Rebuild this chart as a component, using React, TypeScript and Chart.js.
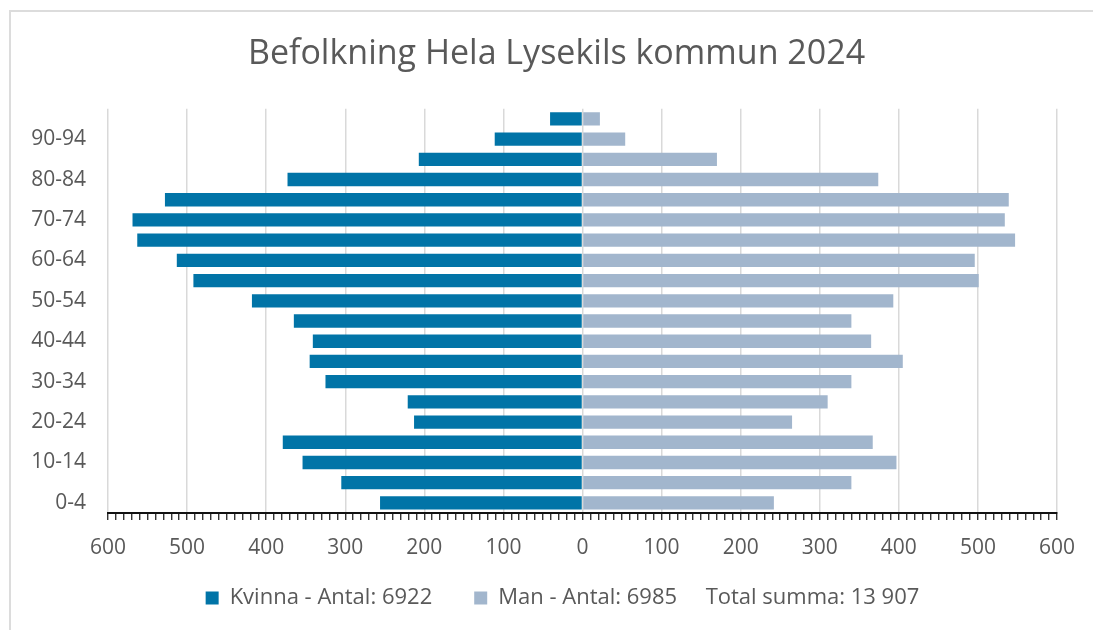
import React, { useEffect, useRef } from 'react';
import { Chart, registerables } from 'chart.js';

Chart.register(...registerables);

const TITLE = 'Befolkning Hela Lysekils kommun 2024';

const AGE_GROUPS = [
  '0-4', '5-9', '10-14', '15-19', '20-24', '25-29', '30-34', '35-39', '40-44', '45-49',
  '50-54', '55-59', '60-64', '65-69', '70-74', '75-79', '80-84', '85-89', '90-94', '95+',
];

const KVINNA = [256, 305, 354, 379, 213, 221, 325, 345, 341, 365, 418, 492, 513, 563, 569, 528, 373, 207, 111, 41];
const MAN = [242, 340, 397, 367, 265, 310, 340, 405, 365, 340, 393, 501, 496, 547, 534, 539, 374, 170, 54, 22];

const KVINNA_LABEL = 'Kvinna - Antal: 6922';
const MAN_LABEL = 'Man - Antal: 6985';
const TOTAL_LABEL = 'Total summa: 13 907';

const X_MIN = -600;
const X_MAX = 600;
const MAJOR_STEP = 100;
const MINOR_STEP = 10;

const TEXT_COLOR = '#595959';
const KVINNA_COLOR = '#0174A7';
const MAN_COLOR = '#A2B6CD';
const GRID_COLOR = '#D9D9D9';
const FONT = "'Open Sans', 'DejaVu Sans', sans-serif";

const LEGEND_PADDING = 42;
const LEGEND_DX = 24;
const LEGEND_TOP = 545;
const TITLE_DX = 18;

const shiftPlugin = {
  id: 'shiftBoxes',
  afterLayout(chart: any) {
    const lg = chart.legend;
    if (lg) {
      lg.left += LEGEND_DX;
      lg.right += LEGEND_DX;
      const h = lg.height;
      lg.top = LEGEND_TOP;
      lg.bottom = LEGEND_TOP + h;
    }
    const t = chart.titleBlock;
    if (t) {
      t.left += TITLE_DX;
      t.right += TITLE_DX;
    }
  },
};

export default function App() {
  const ref = useRef<HTMLCanvasElement>(null);

  useEffect(() => {
    const canvas = ref.current;
    if (!canvas) return;
    const chart = new Chart(canvas, {
      type: 'bar',
      data: {
        labels: AGE_GROUPS,
        datasets: [
          {
            label: KVINNA_LABEL,
            data: KVINNA.map((v) => -v),
            backgroundColor: KVINNA_COLOR,
            borderWidth: 0,
            barPercentage: 0.66,
            categoryPercentage: 1,
          },
          {
            label: MAN_LABEL + '\u00a0'.repeat(5) + TOTAL_LABEL,
            data: MAN,
            backgroundColor: MAN_COLOR,
            borderWidth: 0,
            barPercentage: 0.66,
            categoryPercentage: 1,
          },
        ],
      },
      plugins: [shiftPlugin],
      options: {
        indexAxis: 'y',
        responsive: false,
        maintainAspectRatio: false,
        animation: false,
        font: { family: FONT },
        layout: { padding: { left: 20, right: 36, top: 0, bottom: 8 } },
        scales: {
          x: {
            type: 'linear',
            min: X_MIN,
            max: X_MAX,
            stacked: true,
            ticks: {
              stepSize: MINOR_STEP,
              autoSkip: false,
              maxRotation: 0,
              minRotation: 0,
              color: TEXT_COLOR,
              font: { family: FONT, size: 21 },
              padding: 15,
              callback: (v: any) => (Number(v) % MAJOR_STEP === 0 ? String(Math.abs(Number(v))) : ''),
            },
            grid: {
              color: (ctx: any) =>
                ctx.tick && ctx.tick.value % MAJOR_STEP === 0 ? GRID_COLOR : 'rgba(0,0,0,0)',
              lineWidth: 1.5,
              tickColor: '#111',
              tickLength: 7,
              tickWidth: 1.2,
            },
            border: { display: true, color: '#111', width: 2 },
            afterFit: (s: any) => {
              s.height = 44;
            },
          },
          y: {
            stacked: true,
            reverse: true,
            grid: { display: false, drawTicks: false },
            border: { display: false },
            ticks: {
              autoSkip: false,
              color: TEXT_COLOR,
              font: { family: FONT, size: 21 },
              padding: 22,
              callback: (_v: any, i: number) => (i % 2 === 0 ? AGE_GROUPS[i] : ''),
            },
            afterFit: (s: any) => {
              s.width = 88;
            },
          },
        },
        plugins: {
          title: {
            display: true,
            text: TITLE,
            color: TEXT_COLOR,
            font: { family: FONT, size: 34, weight: 'normal' },
            padding: { top: 34, bottom: 34 },
          },
          legend: {
            position: 'bottom',
            maxHeight: 65,
            labels: {
              color: TEXT_COLOR,
              font: { family: FONT, size: 22 },
              boxWidth: 13,
              boxHeight: 13,
              padding: LEGEND_PADDING,
            },
          },
          tooltip: { enabled: false },
        },
      },
    });
    return () => chart.destroy();
  }, []);

  return (
    <div
      style={{
        position: 'fixed',
        left: 0,
        top: 0,
        width: 1093,
        height: 630,
        overflow: 'hidden',
        background: '#fff',
      }}
    >
      <div
        style={{
          position: 'absolute',
          left: 9,
          top: 10,
          width: 1200,
          height: 800,
          border: '2px solid #DCDCDC',
        }}
      />
      <canvas
        ref={ref}
        width={1093}
        height={630}
        style={{ position: 'absolute', left: 0, top: 0, width: 1093, height: 630 }}
      />
    </div>
  );
}
